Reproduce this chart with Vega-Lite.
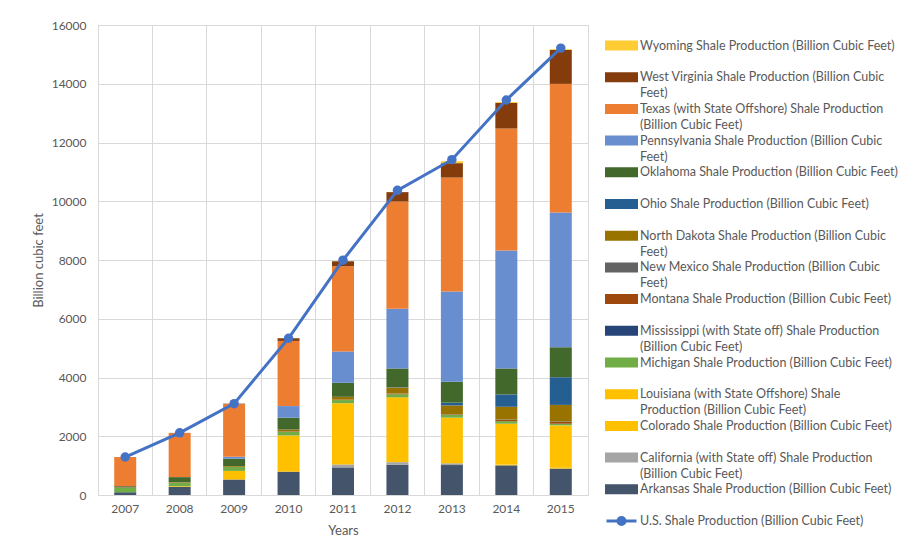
{
  "$schema": "https://vega.github.io/schema/vega-lite/v6.json",
  "width": 490,
  "height": 470,
  "autosize": "none",
  "padding": {"left": 98, "top": 25, "right": 326, "bottom": 62},
  "background": "white",
  "config": {
    "font": "Lato",
    "view": {"stroke": "#D9D9D9", "strokeWidth": 1},
    "axis": {
      "labelColor": "#595959", "titleColor": "#595959",
      "labelFont": "Lato", "titleFont": "Lato",
      "labelFontSize": 12, "titleFontSize": 13, "titleFontWeight": "normal",
      "gridColor": "#D9D9D9", "gridWidth": 1,
      "ticks": false, "tickSize": 0, "domain": false
    },
    "legend": {
      "orient": "right", "offset": 3, "padding": 14,
      "labelFont": "Lato", "labelFontSize": 12.5, "labelColor": "#595959",
      "labelLimit": 400, "labelOffset": 12, "labelBaseline": "middle",
      "symbolSize": 100, "symbolOffset": 10, "rowPadding": -0.3, "symbolStrokeWidth": 0,
      "symbolType": "M-3,-0.7H3V0.7H-3Z"
    }
  },
  "datasets": {
    "states": [
      {"year": "2007", "Arkansas Shale Production (Billion Cubic Feet)": 94, "California (with State off) Shale Production (Billion Cubic Feet)": 0, "Colorado Shale Production (Billion Cubic Feet)": 0, "Louisiana (with State Offshore) Shale Production (Billion Cubic Feet)": 1, "Michigan Shale Production (Billion Cubic Feet)": 148, "Mississippi (with State off) Shale Production (Billion Cubic Feet)": 0, "Montana Shale Production (Billion Cubic Feet)": 12, "New Mexico Shale Production (Billion Cubic Feet)": 2, "North Dakota Shale Production (Billion Cubic Feet)": 3, "Ohio Shale Production (Billion Cubic Feet)": 0, "Oklahoma Shale Production (Billion Cubic Feet)": 40, "Pennsylvania Shale Production (Billion Cubic Feet)": 1, "Texas (with State Offshore) Shale Production (Billion Cubic Feet)": 988, "West Virginia Shale Production (Billion Cubic Feet)": 4, "Wyoming Shale Production (Billion Cubic Feet)": 0},
      {"year": "2008", "Arkansas Shale Production (Billion Cubic Feet)": 279, "California (with State off) Shale Production (Billion Cubic Feet)": 0, "Colorado Shale Production (Billion Cubic Feet)": 0, "Louisiana (with State Offshore) Shale Production (Billion Cubic Feet)": 23, "Michigan Shale Production (Billion Cubic Feet)": 122, "Mississippi (with State off) Shale Production (Billion Cubic Feet)": 0, "Montana Shale Production (Billion Cubic Feet)": 13, "New Mexico Shale Production (Billion Cubic Feet)": 0, "North Dakota Shale Production (Billion Cubic Feet)": 3, "Ohio Shale Production (Billion Cubic Feet)": 0, "Oklahoma Shale Production (Billion Cubic Feet)": 168, "Pennsylvania Shale Production (Billion Cubic Feet)": 1, "Texas (with State Offshore) Shale Production (Billion Cubic Feet)": 1503, "West Virginia Shale Production (Billion Cubic Feet)": 4, "Wyoming Shale Production (Billion Cubic Feet)": 0},
      {"year": "2009", "Arkansas Shale Production (Billion Cubic Feet)": 527, "California (with State off) Shale Production (Billion Cubic Feet)": 0, "Colorado Shale Production (Billion Cubic Feet)": 0, "Louisiana (with State Offshore) Shale Production (Billion Cubic Feet)": 293, "Michigan Shale Production (Billion Cubic Feet)": 132, "Mississippi (with State off) Shale Production (Billion Cubic Feet)": 0, "Montana Shale Production (Billion Cubic Feet)": 7, "New Mexico Shale Production (Billion Cubic Feet)": 2, "North Dakota Shale Production (Billion Cubic Feet)": 25, "Ohio Shale Production (Billion Cubic Feet)": 0, "Oklahoma Shale Production (Billion Cubic Feet)": 249, "Pennsylvania Shale Production (Billion Cubic Feet)": 65, "Texas (with State Offshore) Shale Production (Billion Cubic Feet)": 1789, "West Virginia Shale Production (Billion Cubic Feet)": 21, "Wyoming Shale Production (Billion Cubic Feet)": 0},
      {"year": "2010", "Arkansas Shale Production (Billion Cubic Feet)": 794, "California (with State off) Shale Production (Billion Cubic Feet)": 0, "Colorado Shale Production (Billion Cubic Feet)": 0, "Louisiana (with State Offshore) Shale Production (Billion Cubic Feet)": 1232, "Michigan Shale Production (Billion Cubic Feet)": 120, "Mississippi (with State off) Shale Production (Billion Cubic Feet)": 0, "Montana Shale Production (Billion Cubic Feet)": 13, "New Mexico Shale Production (Billion Cubic Feet)": 5, "North Dakota Shale Production (Billion Cubic Feet)": 64, "Ohio Shale Production (Billion Cubic Feet)": 0, "Oklahoma Shale Production (Billion Cubic Feet)": 403, "Pennsylvania Shale Production (Billion Cubic Feet)": 396, "Texas (with State Offshore) Shale Production (Billion Cubic Feet)": 2218, "West Virginia Shale Production (Billion Cubic Feet)": 91, "Wyoming Shale Production (Billion Cubic Feet)": 0},
      {"year": "2011", "Arkansas Shale Production (Billion Cubic Feet)": 940, "California (with State off) Shale Production (Billion Cubic Feet)": 101, "Colorado Shale Production (Billion Cubic Feet)": 0, "Louisiana (with State Offshore) Shale Production (Billion Cubic Feet)": 2084, "Michigan Shale Production (Billion Cubic Feet)": 107, "Mississippi (with State off) Shale Production (Billion Cubic Feet)": 0, "Montana Shale Production (Billion Cubic Feet)": 13, "New Mexico Shale Production (Billion Cubic Feet)": 3, "North Dakota Shale Production (Billion Cubic Feet)": 95, "Ohio Shale Production (Billion Cubic Feet)": 0, "Oklahoma Shale Production (Billion Cubic Feet)": 476, "Pennsylvania Shale Production (Billion Cubic Feet)": 1068, "Texas (with State Offshore) Shale Production (Billion Cubic Feet)": 2900, "West Virginia Shale Production (Billion Cubic Feet)": 170, "Wyoming Shale Production (Billion Cubic Feet)": 0},
      {"year": "2012", "Arkansas Shale Production (Billion Cubic Feet)": 1027, "California (with State off) Shale Production (Billion Cubic Feet)": 90, "Colorado Shale Production (Billion Cubic Feet)": 3, "Louisiana (with State Offshore) Shale Production (Billion Cubic Feet)": 2204, "Michigan Shale Production (Billion Cubic Feet)": 106, "Mississippi (with State off) Shale Production (Billion Cubic Feet)": 0, "Montana Shale Production (Billion Cubic Feet)": 20, "New Mexico Shale Production (Billion Cubic Feet)": 5, "North Dakota Shale Production (Billion Cubic Feet)": 203, "Ohio Shale Production (Billion Cubic Feet)": 12, "Oklahoma Shale Production (Billion Cubic Feet)": 637, "Pennsylvania Shale Production (Billion Cubic Feet)": 2036, "Texas (with State Offshore) Shale Production (Billion Cubic Feet)": 3649, "West Virginia Shale Production (Billion Cubic Feet)": 318, "Wyoming Shale Production (Billion Cubic Feet)": 0},
      {"year": "2013", "Arkansas Shale Production (Billion Cubic Feet)": 1020, "California (with State off) Shale Production (Billion Cubic Feet)": 60, "Colorado Shale Production (Billion Cubic Feet)": 3, "Louisiana (with State Offshore) Shale Production (Billion Cubic Feet)": 1550, "Michigan Shale Production (Billion Cubic Feet)": 91, "Mississippi (with State off) Shale Production (Billion Cubic Feet)": 0, "Montana Shale Production (Billion Cubic Feet)": 15, "New Mexico Shale Production (Billion Cubic Feet)": 10, "North Dakota Shale Production (Billion Cubic Feet)": 300, "Ohio Shale Production (Billion Cubic Feet)": 95, "Oklahoma Shale Production (Billion Cubic Feet)": 710, "Pennsylvania Shale Production (Billion Cubic Feet)": 3075, "Texas (with State Offshore) Shale Production (Billion Cubic Feet)": 3878, "West Virginia Shale Production (Billion Cubic Feet)": 490, "Wyoming Shale Production (Billion Cubic Feet)": 65},
      {"year": "2014", "Arkansas Shale Production (Billion Cubic Feet)": 1010, "California (with State off) Shale Production (Billion Cubic Feet)": 0, "Colorado Shale Production (Billion Cubic Feet)": 28, "Louisiana (with State Offshore) Shale Production (Billion Cubic Feet)": 1390, "Michigan Shale Production (Billion Cubic Feet)": 85, "Mississippi (with State off) Shale Production (Billion Cubic Feet)": 0, "Montana Shale Production (Billion Cubic Feet)": 45, "New Mexico Shale Production (Billion Cubic Feet)": 15, "North Dakota Shale Production (Billion Cubic Feet)": 430, "Ohio Shale Production (Billion Cubic Feet)": 420, "Oklahoma Shale Production (Billion Cubic Feet)": 885, "Pennsylvania Shale Production (Billion Cubic Feet)": 4015, "Texas (with State Offshore) Shale Production (Billion Cubic Feet)": 4153, "West Virginia Shale Production (Billion Cubic Feet)": 874, "Wyoming Shale Production (Billion Cubic Feet)": 30},
      {"year": "2015", "Arkansas Shale Production (Billion Cubic Feet)": 900, "California (with State off) Shale Production (Billion Cubic Feet)": 0, "Colorado Shale Production (Billion Cubic Feet)": 30, "Louisiana (with State Offshore) Shale Production (Billion Cubic Feet)": 1440, "Michigan Shale Production (Billion Cubic Feet)": 57, "Mississippi (with State off) Shale Production (Billion Cubic Feet)": 0, "Montana Shale Production (Billion Cubic Feet)": 60, "New Mexico Shale Production (Billion Cubic Feet)": 20, "North Dakota Shale Production (Billion Cubic Feet)": 560, "Ohio Shale Production (Billion Cubic Feet)": 942, "Oklahoma Shale Production (Billion Cubic Feet)": 1021, "Pennsylvania Shale Production (Billion Cubic Feet)": 4585, "Texas (with State Offshore) Shale Production (Billion Cubic Feet)": 4380, "West Virginia Shale Production (Billion Cubic Feet)": 1157, "Wyoming Shale Production (Billion Cubic Feet)": 25}
    ],
    "us": [
      {"year": "2007", "us": 1293},
      {"year": "2008", "us": 2116},
      {"year": "2009", "us": 3110},
      {"year": "2010", "us": 5336},
      {"year": "2011", "us": 7994},
      {"year": "2012", "us": 10371},
      {"year": "2013", "us": 11415},
      {"year": "2014", "us": 13447},
      {"year": "2015", "us": 15213}
    ]
  },
  "layer": [
    {
      "data": {"name": "states"},
      "transform": [
        {"fold": [
          "Arkansas Shale Production (Billion Cubic Feet)",
          "California (with State off) Shale Production (Billion Cubic Feet)",
          "Colorado Shale Production (Billion Cubic Feet)",
          "Louisiana (with State Offshore) Shale Production (Billion Cubic Feet)",
          "Michigan Shale Production (Billion Cubic Feet)",
          "Mississippi (with State off) Shale Production (Billion Cubic Feet)",
          "Montana Shale Production (Billion Cubic Feet)",
          "New Mexico Shale Production (Billion Cubic Feet)",
          "North Dakota Shale Production (Billion Cubic Feet)",
          "Ohio Shale Production (Billion Cubic Feet)",
          "Oklahoma Shale Production (Billion Cubic Feet)",
          "Pennsylvania Shale Production (Billion Cubic Feet)",
          "Texas (with State Offshore) Shale Production (Billion Cubic Feet)",
          "West Virginia Shale Production (Billion Cubic Feet)",
          "Wyoming Shale Production (Billion Cubic Feet)"
        ], "as": ["series", "value"]}
      ],
      "mark": {"type": "bar", "size": 22},
      "encoding": {
        "x": {
          "field": "year", "type": "ordinal", "title": "Years",
          "scale": {"paddingInner": 0, "paddingOuter": 0},
          "axis": {"labelAngle": 0, "grid": true, "bandPosition": 0, "labelPadding": 8, "titlePadding": 10, "labelFontSize": 12}
        },
        "y": {
          "field": "value", "type": "quantitative", "stack": "zero", "title": "Billion cubic feet",
          "scale": {"domain": [0, 16000], "nice": false},
          "axis": {"values": [0, 2000, 4000, 6000, 8000, 10000, 12000, 14000, 16000], "format": "d", "labelPadding": 12, "titlePadding": 6}
        },
        "color": {
          "field": "series", "type": "nominal",
          "scale": {
            "domain": [
              "Wyoming Shale Production (Billion Cubic Feet)",
              "West Virginia Shale Production (Billion Cubic Feet)",
              "Texas (with State Offshore) Shale Production (Billion Cubic Feet)",
              "Pennsylvania Shale Production (Billion Cubic Feet)",
              "Oklahoma Shale Production (Billion Cubic Feet)",
              "Ohio Shale Production (Billion Cubic Feet)",
              "North Dakota Shale Production (Billion Cubic Feet)",
              "New Mexico Shale Production (Billion Cubic Feet)",
              "Montana Shale Production (Billion Cubic Feet)",
              "Mississippi (with State off) Shale Production (Billion Cubic Feet)",
              "Michigan Shale Production (Billion Cubic Feet)",
              "Louisiana (with State Offshore) Shale Production (Billion Cubic Feet)",
              "Colorado Shale Production (Billion Cubic Feet)",
              "California (with State off) Shale Production (Billion Cubic Feet)",
              "Arkansas Shale Production (Billion Cubic Feet)",
              "U.S. Shale Production (Billion Cubic Feet)"
            ],
            "range": ["#FFCD33", "#843C0C", "#ED7D31", "#698ED0", "#43682B", "#255E91", "#997300", "#636363", "#9E480E", "#264478", "#70AD47", "#FFC000", "#FFC000", "#A5A5A5", "#44546A", "#4472C4"]
          },
          "legend": {
            "title": null,
            "labelExpr": "(indexof(datum.label,'West')==0 || indexof(datum.label,'Penn')==0 || indexof(datum.label,'North')==0 || indexof(datum.label,'New')==0) ? [slice(datum.label,0,-6), 'Feet)'] : (indexof(datum.label,'Texas')==0 || indexof(datum.label,'Miss')==0 || indexof(datum.label,'Calif')==0) ? [slice(datum.label,0,-21), '(Billion Cubic Feet)'] : indexof(datum.label,'Louis')==0 ? ['Louisiana (with State Offshore) Shale', 'Production (Billion Cubic Feet)'] : [datum.label, '']",
            "encode": {
              "labels": {"update": {"lineHeight": {"value": 16}}},
              "symbols": {"update": {
                "shape": {"signal": "datum.value === 'U.S. Shale Production (Billion Cubic Feet)' ? 'M-3,0H3M-0.7,0A0.7,0.7 0 1,0 0.7,0A0.7,0.7 0 1,0 -0.7,0Z' : 'M-3,-0.7H3V0.7H-3Z'"},
                "fill": {"scale": "color", "field": "value"},
                "stroke": {"signal": "datum.value === 'U.S. Shale Production (Billion Cubic Feet)' ? '#4472C4' : 'transparent'"},
                "strokeWidth": {"value": 3},
                "opacity": {"value": 1}
              }}
            }
          }
        },
        "order": {"field": "series", "sort": "ascending"}
      }
    },
    {
      "data": {"name": "us"},
      "mark": {"type": "line", "strokeWidth": 3, "point": {"filled": true, "size": 90}},
      "encoding": {
        "x": {"field": "year", "type": "ordinal", "title": "Years"},
        "y": {"field": "us", "type": "quantitative", "title": "Billion cubic feet"},
        "color": {"datum": "U.S. Shale Production (Billion Cubic Feet)"}
      }
    }
  ]
}
